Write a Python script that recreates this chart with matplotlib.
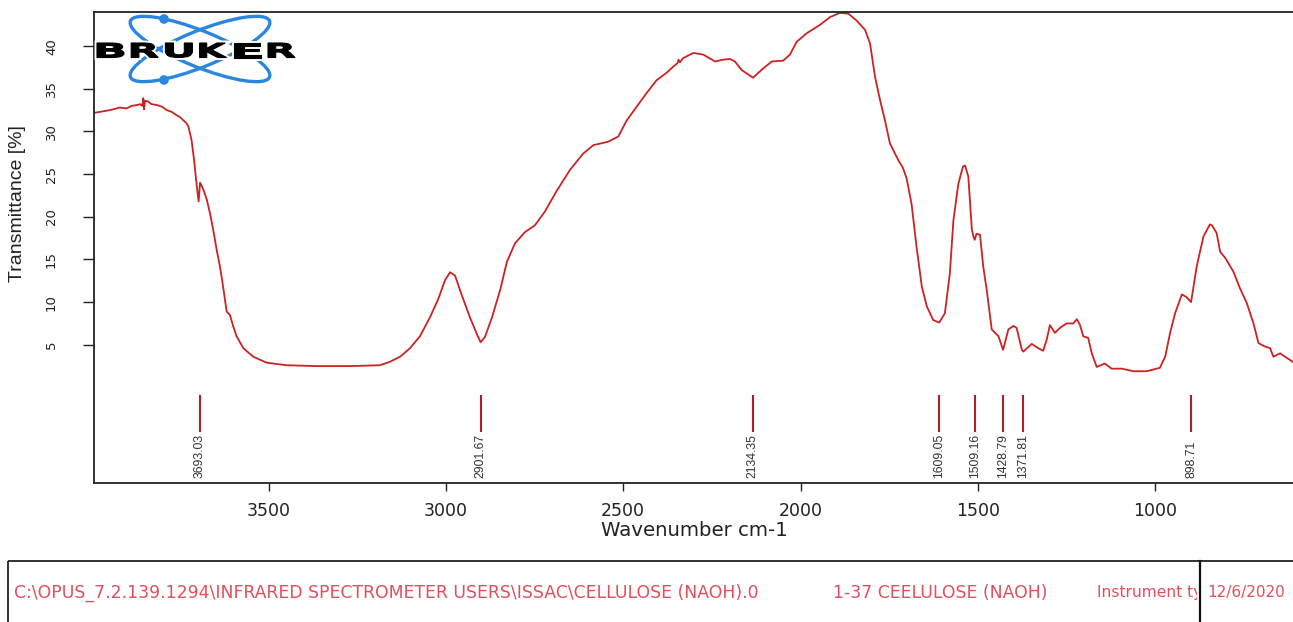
import matplotlib
matplotlib.use("Agg")
import numpy as np
import matplotlib.pyplot as plt
from matplotlib.patches import Ellipse, Circle, Rectangle, PathPatch
from matplotlib.textpath import TextPath
from matplotlib.font_manager import FontProperties
from matplotlib.transforms import Affine2D

plt.rcParams["font.family"] = ["Liberation Sans", "DejaVu Sans"]

# IR spectrum, wavenumber (cm-1) vs transmittance (%)
wavenumber = [3992, 3989, 3947, 3919, 3900, 3886, 3870, 3862, 3856, 3853, 3851, 3848,
              3839, 3830, 3815, 3800, 3787, 3773, 3759, 3750, 3740, 3732, 3726, 3717,
              3710, 3702, 3697, 3693, 3688, 3682, 3674, 3665, 3656, 3646, 3637, 3628,
              3618, 3609, 3599, 3590, 3571, 3543, 3505, 3449, 3364, 3270, 3186, 3158,
              3129, 3101, 3073, 3045, 3022, 3002, 2988, 2974, 2955, 2932, 2912, 2902,
              2890, 2870, 2847, 2828, 2805, 2777, 2749, 2721, 2688, 2650, 2613, 2584,
              2542, 2514, 2490, 2462, 2434, 2406, 2377, 2359, 2347, 2344, 2340, 2331,
              2302, 2274, 2241, 2220, 2199, 2185, 2166, 2134, 2105, 2081, 2049, 2030,
              2011, 1983, 1945, 1917, 1889, 1865, 1842, 1818, 1804, 1790, 1776, 1762,
              1748, 1724, 1712, 1701, 1687, 1673, 1658, 1644, 1626, 1609, 1593, 1579,
              1569, 1555, 1542, 1536, 1527, 1517, 1512, 1509, 1504, 1494, 1485, 1475,
              1461, 1442, 1429, 1414, 1400, 1391, 1376, 1372, 1348, 1330, 1316, 1306,
              1297, 1283, 1268, 1250, 1231, 1221, 1212, 1203, 1189, 1179, 1165, 1142,
              1123, 1094, 1062, 1024, 987, 972, 958, 944, 925, 912, 899, 883,
              864, 846, 840, 827, 817, 803, 780, 761, 742, 723, 709, 691,
              676, 667, 648, 634, 612]
transmittance = [32.2, 32.2, 32.5, 32.8, 32.7, 33.0, 33.1, 33.2, 33.0, 33.9, 32.6, 33.6,
                 33.5, 33.2, 33.1, 32.9, 32.5, 32.3, 31.9, 31.7, 31.3, 31.0, 30.6, 29.0,
                 26.7, 23.5, 21.8, 24.0, 23.6, 23.0, 22.0, 20.4, 18.5, 16.1, 14.2, 11.8,
                 8.9, 8.5, 7.1, 6.0, 4.6, 3.6, 2.9, 2.6, 2.5, 2.5, 2.6, 3.0,
                 3.6, 4.6, 6.0, 8.2, 10.3, 12.6, 13.5, 13.1, 10.8, 8.2, 6.2, 5.3,
                 5.9, 8.2, 11.4, 14.7, 16.9, 18.2, 19.0, 20.6, 23.0, 25.5, 27.4, 28.4,
                 28.8, 29.4, 31.3, 32.9, 34.5, 36.0, 36.9, 37.6, 38.0, 38.4, 38.1, 38.6,
                 39.2, 39.0, 38.2, 38.4, 38.5, 38.2, 37.2, 36.3, 37.4, 38.2, 38.3, 39.0,
                 40.5, 41.5, 42.5, 43.4, 43.9, 43.8, 43.0, 41.9, 40.3, 36.4, 33.7, 31.3,
                 28.6, 26.6, 25.8, 24.5, 21.5, 16.5, 11.8, 9.5, 7.9, 7.6, 8.7, 13.4,
                 19.6, 23.9, 25.9, 26.0, 24.7, 18.5, 17.6, 17.3, 18.0, 17.9, 14.2, 11.4,
                 6.8, 6.0, 4.4, 6.8, 7.2, 7.0, 4.4, 4.2, 5.1, 4.6, 4.3, 5.6,
                 7.3, 6.4, 7.0, 7.5, 7.5, 8.0, 7.3, 6.0, 5.8, 4.0, 2.4, 2.8,
                 2.2, 2.2, 1.9, 1.9, 2.3, 3.6, 6.4, 8.7, 10.9, 10.6, 10.0, 14.2,
                 17.7, 19.1, 19.0, 18.1, 15.9, 15.2, 13.6, 11.6, 9.9, 7.5, 5.2, 4.8,
                 4.6, 3.6, 4.0, 3.6, 3.0]

peaks = [3693.03, 2901.67, 2134.35, 1609.05, 1509.16, 1428.79, 1371.81, 898.71]

x_ticks = [3500, 3000, 2500, 2000, 1500, 1000]
y_ticks = [5, 10, 15, 20, 25, 30, 35, 40]

footer_path = "C:\\OPUS_7.2.139.1294\\INFRARED SPECTROMETER USERS\\ISSAC\\CELLULOSE (NAOH).0"
footer_sample = "1-37 CEELULOSE (NAOH)"
footer_instr = "Instrument type"
footer_date = "12/6/2020"

W, H = 1293, 622
line_red = "#cc2222"
text_red = "#e0505c"
narrow = ["Liberation Sans Narrow", "Liberation Sans", "DejaVu Sans"]

fig = plt.figure(figsize=(W / 100, H / 100), dpi=100)
ax = fig.add_axes([94 / W, 1 - 483 / H, 1 - 94 / W, (483 - 12) / H])

ax.plot(wavenumber, transmittance, color=line_red, lw=1.3)
ax.set_xlim(3992, 611.6)
ax.set_ylim(-11.2, 44.0)

# peak picks: short tick plus rotated value
for p in peaks:
    ax.plot([p, p], [-1.05, -5.15], color="#b01e2a", lw=1.5)
    ax.text(p, -10.6, "{:.2f}".format(p), rotation=90, ha="center", va="bottom",
            fontsize=8.8, family=narrow, color="#333333")

ax.set_xticks(x_ticks)
ax.set_xticklabels([str(v) for v in x_ticks])
ax.set_yticks(y_ticks)
ax.set_yticklabels([str(v) for v in y_ticks])
ax.tick_params(axis="x", direction="out", length=6, width=1, pad=8, labelsize=12.5,
               colors="#222222")
ax.tick_params(axis="y", direction="out", length=8, width=1, pad=18, labelsize=9.5,
               labelrotation=90, colors="#222222")
for lbl in ax.get_xticklabels():
    lbl.set_family("DejaVu Sans")
for lbl in ax.get_yticklabels():
    lbl.set_va("center")
    lbl.set_family("DejaVu Sans")
for side in ["left", "top", "bottom"]:
    ax.spines[side].set_linewidth(1.3)
    ax.spines[side].set_color("#222222")
ax.spines["right"].set_visible(False)

fig.text(18 / W, 1 - 204 / H, "Transmittance [%]", rotation=90, ha="center",
         va="center", fontsize=14, color="#222222")
fig.text(694 / W, 1 - 530 / H, "Wavenumber cm-1", ha="center", va="center",
         fontsize=14.2, family="DejaVu Sans", color="#222222")

# overlay in pixel units for the logo and the report footer
ov = fig.add_axes([0, 0, 1, 1])
ov.set_xlim(0, W)
ov.set_ylim(H, 0)
ov.axis("off")
ov.patch.set_alpha(0)

blue = "#2b86e0"
ov.add_patch(Ellipse((200, 49), 150, 36, angle=22, fill=False, ec=blue, lw=2.4))
ov.add_patch(Ellipse((200, 49), 150, 36, angle=-22, fill=False, ec=blue, lw=2.4))
ov.add_patch(Circle((164, 19), 4.8, fc=blue, ec="none"))
ov.add_patch(Circle((164, 80), 4.8, fc=blue, ec="none"))

bold = FontProperties(family="DejaVu Sans", weight="bold")
for i, ch in enumerate("BRUKER"):
    tp = TextPath((0, 0), ch, size=1, prop=bold)
    ext = tp.get_extents()
    x0 = 97 + i * 34.2
    tr = (Affine2D().translate(-ext.x0, -ext.y0)
          .scale(27 / ext.width, -14.5 / ext.height).translate(x0, 57.5))
    path = tr.transform_path(tp)
    ov.add_patch(PathPatch(path, fc="white", ec="white", lw=3.5))
    ov.add_patch(PathPatch(path, fc="black", ec="black", lw=0.8))

ov.add_patch(Rectangle((8, 561), 1400, 120, fill=False, ec="#222222", lw=1.3, clip_on=False))
ov.plot([1200, 1200], [561, 640], color="#111111", lw=1.6, clip_on=False)

ov.text(14, 593, footer_path, ha="left", va="center", fontsize=12.4,
        family="DejaVu Sans", color=text_red)
ov.text(833, 593, footer_sample, ha="left", va="center", fontsize=12.4,
        family="DejaVu Sans", color=text_red)
# instrument cell is cut by the column divider
instr = ov.text(1097, 593, footer_instr, ha="left", va="center", fontsize=11.2,
                family="DejaVu Sans", color=text_red, clip_on=True)
instr.set_clip_path(Rectangle((0, 0), 1197, H, transform=ov.transData))
ov.text(1207, 593, footer_date, ha="left", va="center", fontsize=11,
        family="DejaVu Sans", color=text_red)

fig.savefig("out.png", dpi=100, facecolor="white")
